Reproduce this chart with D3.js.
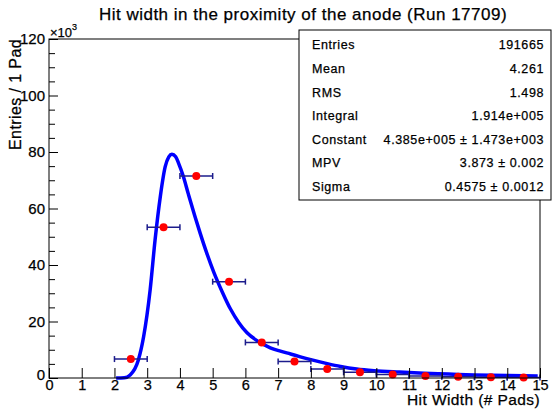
<!DOCTYPE html>
<meta charset="utf-8">
<script src="https://d3js.org/d3.v7.min.js"></script>
<style>
  body { margin: 0; background: #fff; }
  text { font-family: "Liberation Sans", Arial, sans-serif; fill: #000; stroke: #000; stroke-width: 0.25; }
</style>
<div id="my_dataviz"></div>
<script>

// histogram bins (bin centres) and entries, in units of 10^3
var binCentres = [2.5, 3.5, 4.5, 5.5, 6.5, 7.5, 8.5, 9.5, 10.5, 11.5, 12.5, 13.5, 14.5];
var entries    = [6.7, 53.4, 71.5, 34.1, 12.6, 5.8, 3.2, 2.0, 1.2, 0.7, 0.4, 0.25, 0.15];

// fitted Landau curve
var fitX = [2.05, 2.3, 2.48, 2.73, 2.89, 3.09, 3.24, 3.4, 3.55, 3.66, 3.755, 3.87, 3.96, 4.1, 4.26, 4.45, 4.62, 4.82, 5.03, 5.3, 5.54, 5.8, 6.05, 6.4, 6.76, 7.07, 7.38, 7.68, 8.0, 8.5, 8.91, 9.4, 9.93, 10.7, 11.46, 12.2, 12.99, 14.0, 14.93];
var fitY = [0, 0.1, 1.1, 6.4, 14.6, 31.2, 48.8, 64.2, 74.8, 78.3, 79.2, 78.3, 76, 71.5, 65.0, 57.5, 51.2, 44.2, 37.6, 30.3, 24.5, 19.6, 16.0, 12.9, 10.7, 9.5, 8.5, 7.5, 6.5, 5.1, 4.1, 3.2, 2.6, 2.1, 1.7, 1.4, 1.1, 0.9, 0.7];

var xTicks = d3.range(0, 16);
var yTicks = [0, 20, 40, 60, 80, 100, 120];
var yMinor = [5, 10, 15, 25, 30, 35, 45, 50, 55, 65, 70, 75, 85, 90, 95, 105, 110, 115];

var statNames  = ["Entries", "Mean", "RMS", "Integral", "Constant", "MPV", "Sigma"];
var statValues = ["191665", "4.261", "1.498", "1.914e+005", "4.385e+005 \u00b1 1.473e+003", "3.873 \u00b1 0.002", "0.4575 \u00b1 0.0012"];

var W = 553, H = 409;
var margin = {top: 39, right: 13, bottom: 31, left: 49};

var svg = d3.select("#my_dataviz")
  .append("svg")
    .attr("width", W)
    .attr("height", H);

var x = d3.scaleLinear().domain([0, 15]).range([margin.left, W - margin.right]);
var y = d3.scaleLinear().domain([0, 120]).range([H - margin.bottom, margin.top]);

// title
svg.append("text")
  .attr("x", 303).attr("y", 20)
  .attr("text-anchor", "middle")
  .attr("font-size", 17)
  .attr("letter-spacing", 0.5)
  .text("Hit width in the proximity of the anode  (Run 17709)");

// fit curve
svg.append("path")
  .datum(fitX.map(function(d, i) { return [d, fitY[i]]; }))
  .attr("fill", "none")
  .attr("stroke", "#0000ff")
  .attr("stroke-width", 3.5)
  .attr("stroke-linejoin", "round")
  .attr("d", d3.line()
    .x(function(d) { return x(d[0]); })
    .y(function(d) { return y(d[1]); })
    .curve(d3.curveMonotoneX));

// error bars (bin width)
var bars = svg.append("g").attr("stroke", "#1c1c8c").attr("stroke-width", 1.5);
binCentres.forEach(function(c, i) {
  var yy = y(entries[i]);
  bars.append("line").attr("x1", x(c - 0.5)).attr("x2", x(c + 0.5)).attr("y1", yy).attr("y2", yy);
  bars.append("line").attr("x1", x(c - 0.5)).attr("x2", x(c - 0.5)).attr("y1", yy - 3).attr("y2", yy + 3);
  bars.append("line").attr("x1", x(c + 0.5)).attr("x2", x(c + 0.5)).attr("y1", yy - 3).attr("y2", yy + 3);
});

// points
svg.append("g")
  .selectAll("circle")
  .data(binCentres)
  .enter().append("circle")
    .attr("cx", function(d) { return x(d); })
    .attr("cy", function(d, i) { return y(entries[i]); })
    .attr("r", 4)
    .attr("fill", "#ff0000");

// frame
svg.append("rect")
  .attr("x", x(0)).attr("y", y(120))
  .attr("width", x(15) - x(0)).attr("height", y(0) - y(120))
  .attr("fill", "none").attr("stroke", "#000").attr("stroke-width", 1);

// x axis
var xAxis = svg.append("g")
  .attr("transform", "translate(0," + y(0) + ")")
  .call(d3.axisBottom(x).tickValues(xTicks).tickSize(-10).tickPadding(2).tickFormat(d3.format("d")));
xAxis.select(".domain").remove();
xAxis.selectAll("text").attr("font-size", 14.5).attr("font-family", null).attr("fill", null);

// y axis, major + minor ticks
var yAxis = svg.append("g")
  .attr("transform", "translate(" + x(0) + ",0)")
  .call(d3.axisLeft(y).tickValues(yTicks).tickSize(-9).tickPadding(4).tickFormat(d3.format("d")));
yAxis.select(".domain").remove();
yAxis.selectAll("text").attr("font-size", 15).attr("font-family", null).attr("fill", null);
yAxis.selectAll("text").filter(function(d) { return d === 0; }).attr("dy", "0.1em").attr("x", -4);

svg.append("g")
  .attr("transform", "translate(" + x(0) + ",0)")
  .call(d3.axisLeft(y).tickValues(yMinor).tickSize(-6).tickFormat(""))
  .select(".domain").remove();

// exponent label
var exp = svg.append("text")
  .attr("x", x(0) + 1).attr("y", y(120) - 2)
  .attr("font-size", 13);
exp.append("tspan").text("\u00d710");
exp.append("tspan").attr("dy", -7).attr("font-size", 9).text("3");

// axis titles
svg.append("text")
  .attr("x", x(15)).attr("y", 405)
  .attr("text-anchor", "end")
  .attr("font-size", 15.5)
  .attr("letter-spacing", 0.4)
  .text("Hit Width (# Pads)");

svg.append("text")
  .attr("transform", "translate(21," + y(120) + ") rotate(-90)")
  .attr("text-anchor", "end")
  .attr("font-size", 16)
  .attr("letter-spacing", 0.4)
  .text("Entries / 1 Pad");

// stats box
var box = svg.append("g");
box.append("rect")
  .attr("x", 299).attr("y", 30)
  .attr("width", 252).attr("height", 170)
  .attr("fill", "#fff").attr("stroke", "#000").attr("stroke-width", 1);

statNames.forEach(function(name, i) {
  var ty = 45 + i * 23.6;
  box.append("text")
    .attr("x", 312).attr("y", ty).attr("dy", "0.35em")
    .attr("font-size", 12.5)
    .attr("letter-spacing", 0.6)
    .text(name);
  box.append("text")
    .attr("x", 544).attr("y", ty).attr("dy", "0.35em")
    .attr("text-anchor", "end")
    .attr("font-size", 12.5)
    .attr("letter-spacing", 0.6)
    .text(statValues[i]);
});

</script>
